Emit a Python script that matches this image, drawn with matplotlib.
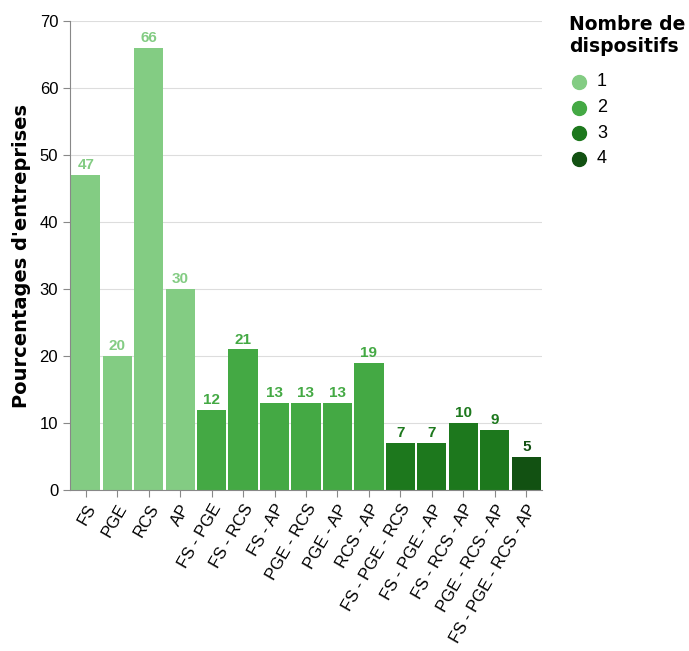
import numpy as np
import matplotlib.pyplot as plt

plt.rcParams['font.family'] = ['Liberation Sans', 'DejaVu Sans']

# data
categories = ["FS", "PGE", "RCS", "AP",
              "FS - PGE", "FS - RCS", "FS - AP", "PGE - RCS", "PGE - AP", "RCS - AP",
              "FS - PGE - RCS", "FS - PGE - AP", "FS - RCS - AP", "PGE - RCS - AP",
              "FS - PGE - RCS - AP"]
values = [47, 20, 66, 30, 12, 21, 13, 13, 13, 19, 7, 7, 10, 9, 5]
nb_dispositifs = [1, 1, 1, 1, 2, 2, 2, 2, 2, 2, 3, 3, 3, 3, 4]
legend_levels = [1, 2, 3, 4]
level_colors = {1: "#83cc83", 2: "#44a944", 3: "#1d781d", 4: "#125112"}

fig = plt.figure(figsize=(6.89, 6.51), dpi=100)
ax = fig.add_axes([70/689, 1-490/651, 472/689, 469/651])

x = np.arange(len(categories))
cols = [level_colors[n] for n in nb_dispositifs]
ax.bar(x, values, width=0.93, color=cols, zorder=2)

for xi, v, c in zip(x, values, cols):
    ax.text(xi, v + 0.4, str(v), ha='center', va='bottom', color=c,
            fontsize=11, fontweight='bold')

ax.set_xlim(-0.5, len(categories) - 0.5)
ax.set_ylim(0, 70)
ax.set_yticks(range(0, 71, 10))
ax.set_xticks(x)
ax.set_xticklabels(categories, rotation=60, ha='right', rotation_mode='anchor')
ax.tick_params(axis='both', labelsize=12, color='#888888', length=5)
ax.grid(axis='y', color='#dddddd', zorder=0)
ax.set_axisbelow(True)
for s in ['top', 'right']:
    ax.spines[s].set_visible(False)
for s in ['left', 'bottom']:
    ax.spines[s].set_color('#888888')
ax.set_ylabel("Pourcentages d'entreprises", fontsize=14, fontweight='bold',
              family='DejaVu Sans', labelpad=6)

# legend
fig.text(569/689, 1-15/651, "Nombre de\ndispositifs", fontsize=13.5, fontweight='bold',
         family='DejaVu Sans', va='top', ha='left', linespacing=1.2)
for i, lv in enumerate(legend_levels):
    yy = 1 - (82 + i * 25.5) / 651
    fig.lines.append(plt.Line2D([579/689], [yy], marker='o', markersize=10,
                                color=level_colors[lv], transform=fig.transFigure))
    fig.text(597/689, yy, str(lv), fontsize=13, va='center', ha='left')

fig.savefig("out.png", dpi=100)
